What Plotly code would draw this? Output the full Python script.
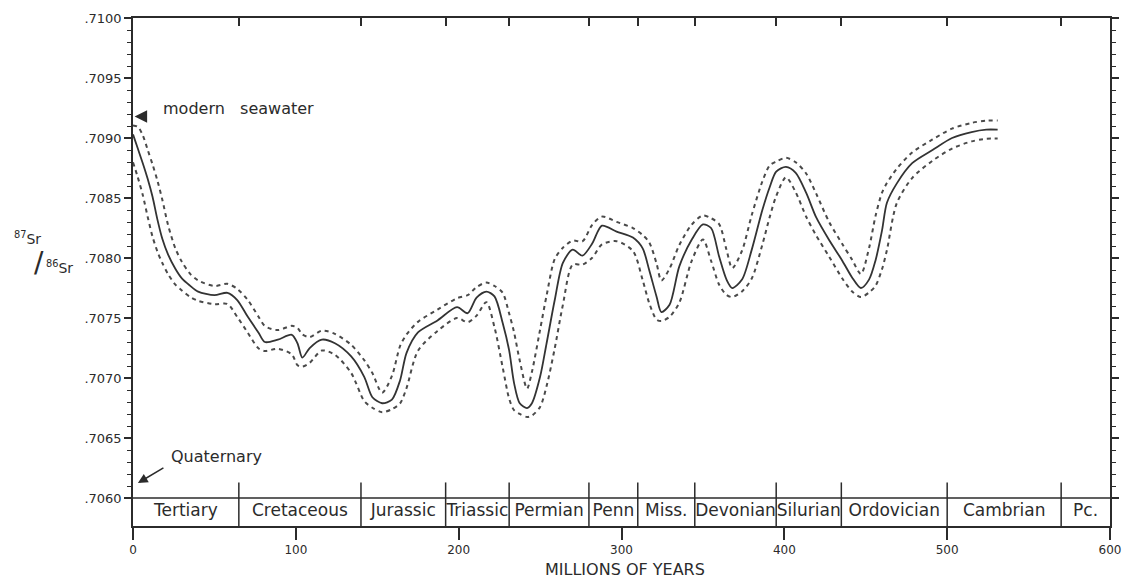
import numpy as np
import plotly.graph_objects as go

# ---------------- data ----------------
AGE_MA = [0, 3, 6, 9, 12, 15, 18, 21.5, 26, 30, 35, 40, 50, 58, 64, 70.5, 77, 81,
          89, 97.5, 101, 104, 108.5, 116, 124, 134, 142, 147, 153, 159, 164, 168, 175,
          187, 199, 205.5, 211, 217, 222, 227, 231, 234, 237.5, 242, 245, 250, 254,
          259, 264, 270, 276, 282, 288, 297, 307, 313, 317, 321.5, 324.5, 329.5,
          335.5, 343, 350, 355, 360, 364.5, 368, 374, 380, 386.5, 391, 395, 401, 407,
          413.5, 419.5, 427.5, 435.5, 441.5, 447, 452, 456, 460, 463, 469, 478.5, 491,
          503, 515, 524, 531]
SR_RATIO = [0.70903, 0.70891, 0.70879, 0.70866, 0.70851, 0.70832, 0.70816, 0.70803,
            0.70791, 0.70783, 0.70777, 0.70772, 0.70769, 0.70771, 0.70765,
            0.70751, 0.70738, 0.70730, 0.70732, 0.70736, 0.70729, 0.70717, 0.70725,
            0.70732, 0.70729, 0.70718, 0.70701, 0.70684, 0.70679, 0.70682, 0.70698,
            0.70721, 0.70738, 0.70748, 0.70759, 0.70754, 0.70767, 0.70772, 0.70768,
            0.70746, 0.70723, 0.70696, 0.70679, 0.70675, 0.70679, 0.70701, 0.70729,
            0.70765, 0.70796, 0.70807, 0.70802, 0.70812, 0.70827, 0.70822, 0.70817,
            0.70808, 0.70790, 0.70768, 0.70755, 0.70761, 0.70793, 0.70815, 0.70828,
            0.70825, 0.70801, 0.70782, 0.70775, 0.70782, 0.70807, 0.70840, 0.70859,
            0.70872, 0.70876, 0.70871, 0.70854, 0.70834, 0.70815, 0.70798, 0.70784,
            0.70775, 0.70782, 0.70798, 0.70823, 0.70846, 0.70862, 0.70879, 0.70890,
            0.70900, 0.70905, 0.70907, 0.70907]

# uncertainty envelope half-widths (in Ma and in ratio units)
BAND_DX = 5.5
BAND_DY = 0.000075

PERIODS = ["Tertiary", "Cretaceous", "Jurassic", "Triassic", "Permian", "Penn",
           "Miss.", "Devonian", "Silurian", "Ordovician", "Cambrian", "Pc."]
BOUNDARIES = [0, 65, 140, 192, 231, 280, 310, 345, 395, 435, 500, 570, 600]

X_TICKS = [0, 100, 200, 300, 400, 500, 600]
Y_TICKS = [0.7060, 0.7065, 0.7070, 0.7075, 0.7080, 0.7085, 0.7090, 0.7095, 0.7100]
Y_TICK_TEXT = [".7060", ".7065", ".7070", ".7075", ".7080", ".7085", ".7090", ".7095", ".7100"]
Y_MINOR = [round(0.7060 + i * 0.0001, 4) for i in range(41)]

MODERN_SEAWATER = 0.70918
Y_MIN, Y_MAX = 0.705767, 0.7100
BAND_TOP = 0.7060
DIVIDER_TOP = 0.70613
LABEL_Y = 0.705883

FONT = "DejaVu Sans"
INK = "#2b2b2b"

ages = np.array(AGE_MA)
ratio = np.array(SR_RATIO)


def envelope(sign):
    """Outer edge of a tube of half-size (BAND_DX, BAND_DY) around the polyline."""
    t = np.linspace(0, 1, 21)
    xs = np.concatenate([ages[i] + t * (ages[i + 1] - ages[i]) for i in range(len(ages) - 1)])
    ys = np.concatenate([ratio[i] + t * (ratio[i + 1] - ratio[i]) for i in range(len(ages) - 1)])
    out = []
    for xi in ages:
        d = np.abs(xs - xi)
        m = d < BAND_DX
        w = np.sqrt(1 - (d[m] / BAND_DX) ** 2)
        vals = ys[m] + sign * BAND_DY * w
        out.append(vals.max() if sign > 0 else vals.min())
    return out


upper = envelope(1)
lower = envelope(-1)

fig = go.Figure()

for env in (upper, lower):
    fig.add_trace(go.Scatter(
        x=AGE_MA, y=env, mode="lines",
        line=dict(color="#4a4a4a", width=2, dash="4px,4px", shape="spline", smoothing=0.8),
        hoverinfo="skip", showlegend=False))

fig.add_trace(go.Scatter(
    x=AGE_MA, y=SR_RATIO, mode="lines",
    line=dict(color="#333333", width=1.8, shape="spline", smoothing=0.8),
    showlegend=False))

# period labels
mids = [(BOUNDARIES[i] + BOUNDARIES[i + 1]) / 2 for i in range(len(PERIODS))]
fig.add_trace(go.Scatter(
    x=mids, y=[LABEL_Y] * len(PERIODS), mode="text", text=PERIODS,
    textfont=dict(family=FONT, size=17, color=INK),
    hoverinfo="skip", showlegend=False))

# invisible trace on top axis
fig.add_trace(go.Scatter(x=[0, 600], y=[Y_MIN, Y_MIN], xaxis="x2", mode="markers",
                         marker=dict(opacity=0), hoverinfo="skip", showlegend=False))

# band top line and dividers
fig.add_shape(type="line", x0=BOUNDARIES[0], x1=BOUNDARIES[-1], y0=BAND_TOP, y1=BAND_TOP,
              line=dict(color=INK, width=1.5))
for b in BOUNDARIES[1:-1]:
    fig.add_shape(type="line", x0=b, x1=b, y0=Y_MIN, y1=DIVIDER_TOP,
                  line=dict(color=INK, width=1.5))

# annotations
fig.add_annotation(x=1.0, y=MODERN_SEAWATER, ax=10, ay=0, text="", showarrow=True,
                   arrowhead=2, arrowsize=1.0, arrowwidth=2.5, arrowcolor=INK)
fig.add_annotation(x=17, y=0.70925, text="modern&nbsp;&nbsp; seawater", showarrow=False,
                   xanchor="left", font=dict(family=FONT, size=16, color=INK))
fig.add_annotation(x=22, y=0.706342, text="Quaternary", showarrow=False,
                   xanchor="left", font=dict(family=FONT, size=16, color=INK))
fig.add_annotation(x=3, y=0.706125, ax=19.6, ay=0.706258, axref="x", ayref="y",
                   text="", showarrow=True, arrowhead=2, arrowsize=1.3,
                   arrowwidth=1.5, arrowcolor=INK)

# axis titles
fig.add_annotation(xref="paper", yref="paper", x=-0.1238, y=0.566, xanchor="left",
                   text="<sup>87</sup>Sr", showarrow=False,
                   font=dict(family=FONT, size=14, color=INK))
fig.add_annotation(xref="paper", yref="paper", x=-0.0967, y=0.518, xanchor="center",
                   text="/", showarrow=False, font=dict(family=FONT, size=28, color=INK))
fig.add_annotation(xref="paper", yref="paper", x=-0.0911, y=0.51, xanchor="left",
                   text="<sup>86</sup>Sr", showarrow=False,
                   font=dict(family=FONT, size=14, color=INK))
fig.add_annotation(x=302, yref="paper", y=-0.0866, yanchor="middle", xanchor="center",
                   text="MILLIONS OF YEARS", showarrow=False,
                   font=dict(family=FONT, size=16, color=INK))

fig.update_layout(
    width=1125, height=581,
    margin=dict(l=133, r=15, t=18, b=55, autoexpand=False),
    paper_bgcolor="white", plot_bgcolor="white",
    xaxis=dict(range=[0, 600], tickvals=X_TICKS, ticks="outside", ticklen=12,
               tickwidth=1.5, tickcolor=INK, showline=True, linecolor=INK, linewidth=1.5,
               mirror=True, showgrid=False, zeroline=False, automargin=False,
               tickfont=dict(family=FONT, size=12, color=INK)),
    xaxis2=dict(range=[0, 600], overlaying="x", side="top", tickvals=BOUNDARIES[1:-1],
                ticks="inside", ticklen=8, tickwidth=1.5, tickcolor=INK, automargin=False,
                showticklabels=False, showline=False, showgrid=False, zeroline=False),
    yaxis=dict(range=[Y_MIN, Y_MAX], tickvals=Y_TICKS, ticktext=Y_TICK_TEXT,
               ticks="outside", ticklen=7, tickwidth=1.5, tickcolor=INK,
               showline=True, linecolor=INK, linewidth=1.5, mirror="ticks",
               showgrid=False, zeroline=False, automargin=False,
               minor=dict(tickvals=Y_MINOR, ticks="outside", ticklen=4, tickwidth=1.2,
                          tickcolor=INK, showgrid=False),
               tickfont=dict(family=FONT, size=13, color=INK)),
)

# remove the default 8px page margin so the figure fills the window exactly
fig.write_html("out.html", config={"displayModeBar": False},
               post_script="document.body.style.margin='0';")
